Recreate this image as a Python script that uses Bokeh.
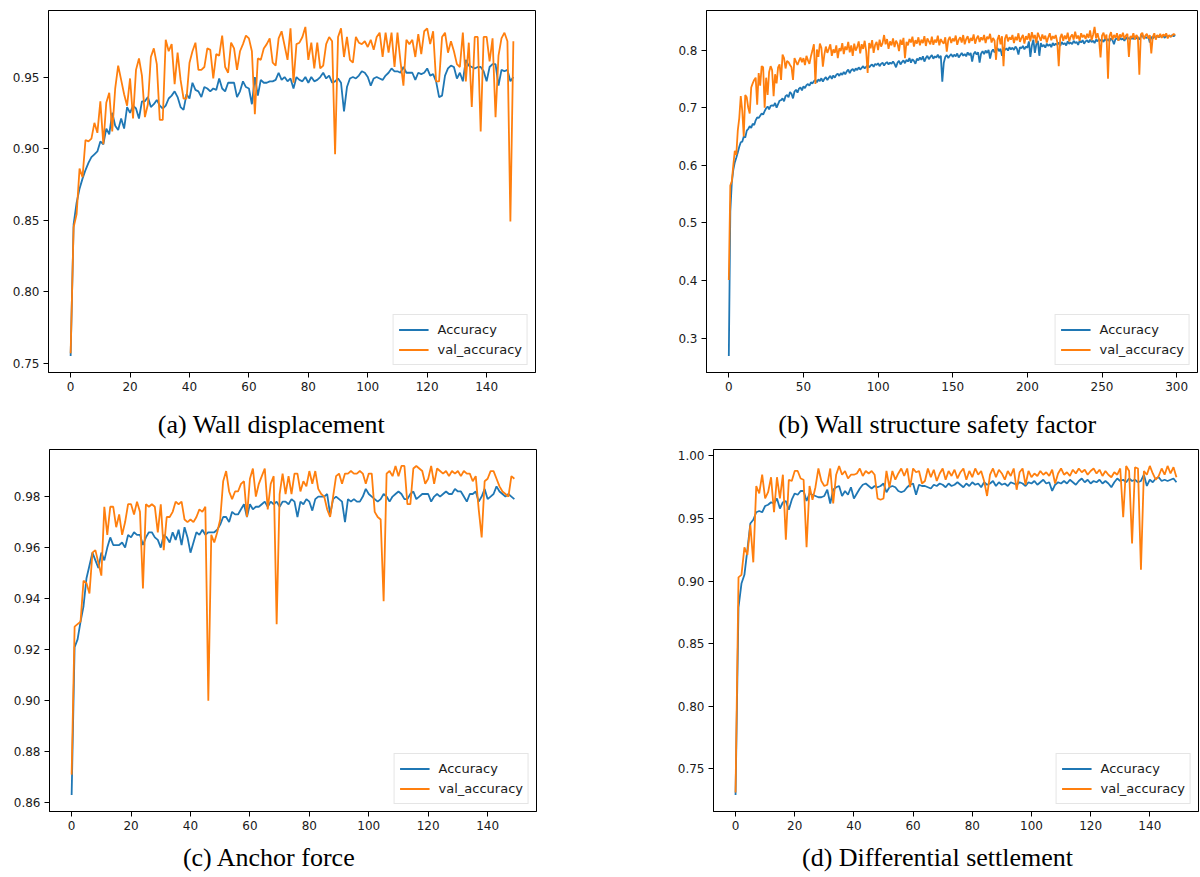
from bokeh.plotting import figure
from bokeh.layouts import column, row
from bokeh.models import Range1d, FixedTicker, PrintfTickFormatter, Legend, LegendItem, Label
from bokeh.embed import file_html
from bokeh.resources import INLINE

BLUE = "#1f77b4"
ORANGE = "#ff7f0e"

# ---------------- (a) Wall displacement ----------------
acc_a = [
    0.755, 0.847, 0.862, 0.872, 0.879, 0.885, 0.890, 0.894, 0.896, 0.898,
    0.905, 0.903, 0.914, 0.910, 0.925, 0.916, 0.913, 0.921, 0.914, 0.929,
    0.925, 0.930, 0.928, 0.921, 0.933, 0.933, 0.936, 0.929, 0.931, 0.934,
    0.930, 0.928, 0.930, 0.935, 0.937, 0.940, 0.936, 0.929, 0.927, 0.938,
    0.935, 0.946, 0.941, 0.940, 0.936, 0.943, 0.942, 0.940, 0.942, 0.941,
    0.949, 0.942, 0.940, 0.946, 0.946, 0.946, 0.936, 0.940, 0.947, 0.943,
    0.942, 0.931, 0.950, 0.937, 0.948, 0.946, 0.946, 0.947, 0.947, 0.948,
    0.953, 0.948, 0.950, 0.947, 0.949, 0.942, 0.950, 0.948, 0.947, 0.950,
    0.946, 0.950, 0.947, 0.948, 0.950, 0.953, 0.949, 0.951, 0.946, 0.947,
    0.949, 0.946, 0.926, 0.943, 0.949, 0.950, 0.949, 0.951, 0.954, 0.953,
    0.950, 0.944, 0.949, 0.950, 0.949, 0.948, 0.951, 0.953, 0.956, 0.954,
    0.954, 0.953, 0.957, 0.953, 0.953, 0.953, 0.948, 0.953, 0.952, 0.953,
    0.956, 0.951, 0.952, 0.947, 0.936, 0.937, 0.951, 0.956, 0.958, 0.957,
    0.949, 0.953, 0.947, 0.962, 0.958, 0.957, 0.956, 0.957, 0.957, 0.954,
    0.947, 0.957, 0.959, 0.959, 0.944, 0.955, 0.954, 0.955, 0.947, 0.950,
]
val_a = [
    0.757, 0.845, 0.854, 0.886, 0.880, 0.906, 0.905, 0.907, 0.918, 0.911,
    0.933, 0.903, 0.932, 0.939, 0.912, 0.942, 0.958, 0.948, 0.938, 0.930,
    0.949, 0.921, 0.955, 0.963, 0.951, 0.922, 0.931, 0.964, 0.970, 0.959,
    0.920, 0.920, 0.976, 0.968, 0.973, 0.945, 0.967, 0.948, 0.935, 0.935,
    0.960, 0.968, 0.974, 0.955, 0.955, 0.957, 0.970, 0.969, 0.949, 0.966,
    0.965, 0.979, 0.957, 0.953, 0.974, 0.970, 0.955, 0.968, 0.973, 0.979,
    0.977, 0.968, 0.924, 0.963, 0.962, 0.970, 0.973, 0.977, 0.960, 0.958,
    0.977, 0.982, 0.972, 0.962, 0.984, 0.946, 0.973, 0.974, 0.978, 0.985,
    0.962, 0.974, 0.956, 0.974, 0.956, 0.958, 0.973, 0.978, 0.975, 0.896,
    0.978, 0.984, 0.964, 0.978, 0.962, 0.960, 0.978, 0.974, 0.973, 0.975,
    0.971, 0.976, 0.969, 0.978, 0.981, 0.964, 0.981, 0.967, 0.981, 0.957,
    0.981, 0.961, 0.944, 0.976, 0.973, 0.976, 0.964, 0.980, 0.966, 0.982,
    0.984, 0.973, 0.982, 0.947, 0.947, 0.978, 0.981, 0.967, 0.975, 0.968,
    0.959, 0.957, 0.981, 0.947, 0.974, 0.929, 0.978, 0.978, 0.912, 0.978,
    0.978, 0.961, 0.977, 0.922, 0.965, 0.977, 0.981, 0.975, 0.849, 0.975,
]

# ---------------- (b) Wall structure safety factor ----------------
acc_b = [
    0.269, 0.520, 0.570, 0.592, 0.605, 0.613, 0.622, 0.632, 0.640, 0.641,
    0.650, 0.648, 0.660, 0.663, 0.668, 0.665, 0.672, 0.670, 0.678, 0.683,
    0.682, 0.686, 0.690, 0.688, 0.694, 0.699, 0.702, 0.697, 0.703, 0.704,
    0.703, 0.708, 0.700, 0.706, 0.712, 0.713, 0.716, 0.711, 0.720, 0.722,
    0.718, 0.727, 0.724, 0.716, 0.728, 0.731, 0.726, 0.733, 0.735, 0.730,
    0.737, 0.734, 0.739, 0.741, 0.738, 0.744, 0.742, 0.746, 0.748, 0.744,
    0.749, 0.746, 0.751, 0.745, 0.750, 0.753, 0.748, 0.752, 0.755, 0.750,
    0.756, 0.752, 0.757, 0.759, 0.755, 0.760, 0.757, 0.762, 0.758, 0.763,
    0.766, 0.760, 0.765, 0.767, 0.763, 0.768, 0.765, 0.770, 0.766, 0.769,
    0.772, 0.768, 0.771, 0.774, 0.770, 0.773, 0.775, 0.771, 0.776, 0.774,
    0.777, 0.772, 0.776, 0.778, 0.773, 0.777, 0.779, 0.775, 0.778, 0.776,
    0.780, 0.776, 0.770, 0.778, 0.781, 0.775, 0.779, 0.782, 0.777, 0.783,
    0.780, 0.786, 0.778, 0.784, 0.781, 0.776, 0.785, 0.782, 0.787, 0.783,
    0.789, 0.780, 0.786, 0.790, 0.784, 0.788, 0.791, 0.785, 0.789, 0.787,
    0.792, 0.786, 0.790, 0.745, 0.778, 0.788, 0.791, 0.786, 0.790, 0.793,
    0.788, 0.792, 0.789, 0.794, 0.787, 0.791, 0.795, 0.790, 0.793, 0.789,
    0.796, 0.791, 0.795, 0.780, 0.793, 0.797, 0.792, 0.796, 0.778, 0.794,
    0.798, 0.793, 0.799, 0.795, 0.800, 0.785, 0.797, 0.801, 0.796, 0.799,
    0.803, 0.798, 0.802, 0.790, 0.804, 0.800, 0.803, 0.799, 0.805, 0.801,
    0.804, 0.800, 0.806, 0.802, 0.792, 0.805, 0.803, 0.807, 0.801, 0.806,
    0.804, 0.815, 0.788, 0.808, 0.818, 0.795, 0.810, 0.816, 0.790, 0.812,
    0.806, 0.809, 0.804, 0.811, 0.807, 0.810, 0.805, 0.812, 0.808, 0.811,
    0.809, 0.813, 0.807, 0.814, 0.810, 0.812, 0.808, 0.815, 0.811, 0.813,
    0.810, 0.816, 0.812, 0.814, 0.809, 0.816, 0.813, 0.817, 0.811, 0.815,
    0.817, 0.813, 0.818, 0.814, 0.816, 0.812, 0.818, 0.815, 0.819, 0.816,
    0.818, 0.814, 0.820, 0.816, 0.819, 0.815, 0.820, 0.817, 0.810, 0.819,
    0.820, 0.817, 0.821, 0.818, 0.820, 0.816, 0.822, 0.819, 0.821, 0.818,
    0.822, 0.819, 0.823, 0.820, 0.822, 0.818, 0.823, 0.826, 0.820, 0.822,
    0.821, 0.824, 0.813, 0.823, 0.820, 0.824, 0.821, 0.825, 0.822, 0.824,
    0.823, 0.825, 0.821, 0.826, 0.822, 0.825, 0.823, 0.826, 0.824, 0.826,
]
val_b = [
    0.401, 0.565, 0.572, 0.600, 0.625, 0.618, 0.660, 0.682, 0.720, 0.695,
    0.650, 0.722, 0.718, 0.700, 0.690, 0.735, 0.742, 0.748, 0.752, 0.705,
    0.760, 0.738, 0.772, 0.770, 0.700, 0.752, 0.722, 0.762, 0.772, 0.765,
    0.720, 0.758, 0.742, 0.770, 0.775, 0.748, 0.792, 0.786, 0.768, 0.781,
    0.779, 0.774, 0.770, 0.748, 0.786, 0.780, 0.774, 0.781, 0.787, 0.779,
    0.786, 0.774, 0.790, 0.782, 0.776, 0.789, 0.799, 0.810, 0.741, 0.801,
    0.788, 0.811, 0.804, 0.771, 0.792, 0.806, 0.795, 0.802, 0.810, 0.790,
    0.801, 0.795, 0.808, 0.786, 0.803, 0.798, 0.812, 0.793, 0.806, 0.800,
    0.814, 0.796, 0.808, 0.790, 0.811, 0.799, 0.805, 0.815, 0.794, 0.810,
    0.802, 0.816, 0.798, 0.760, 0.812, 0.803, 0.817, 0.795, 0.809, 0.814,
    0.800, 0.818, 0.806, 0.812, 0.826, 0.810, 0.819, 0.802, 0.815, 0.808,
    0.820, 0.805, 0.816, 0.811, 0.798, 0.818, 0.809, 0.821, 0.786, 0.814,
    0.808, 0.819, 0.813, 0.823, 0.806, 0.817, 0.811, 0.822, 0.808, 0.818,
    0.812, 0.824, 0.807, 0.820, 0.815, 0.810, 0.823, 0.809, 0.818, 0.813,
    0.825, 0.808, 0.819, 0.814, 0.811, 0.822, 0.797, 0.817, 0.823, 0.812,
    0.820, 0.815, 0.825, 0.809, 0.818, 0.822, 0.813, 0.826, 0.810, 0.819,
    0.824, 0.812, 0.821, 0.816, 0.827, 0.811, 0.820, 0.825, 0.814, 0.822,
    0.817, 0.826, 0.812, 0.823, 0.819, 0.828, 0.813, 0.821, 0.816, 0.783,
    0.818, 0.826, 0.810, 0.824, 0.772, 0.820, 0.827, 0.815, 0.822, 0.818,
    0.826, 0.812, 0.823, 0.817, 0.829, 0.814, 0.821, 0.826, 0.811, 0.824,
    0.818, 0.829, 0.815, 0.831, 0.820, 0.826, 0.812, 0.830, 0.823, 0.816,
    0.827, 0.819, 0.825, 0.813, 0.822, 0.829, 0.817, 0.824, 0.820, 0.826,
    0.814, 0.772, 0.821, 0.828, 0.816, 0.825, 0.819, 0.830, 0.815, 0.823,
    0.827, 0.818, 0.832, 0.820, 0.825, 0.816, 0.829, 0.822, 0.826, 0.819,
    0.828, 0.821, 0.834, 0.817, 0.826, 0.840, 0.820, 0.829, 0.818, 0.787,
    0.825, 0.830, 0.819, 0.827, 0.750, 0.824, 0.831, 0.818, 0.826, 0.821,
    0.829, 0.816, 0.827, 0.822, 0.830, 0.819, 0.825, 0.828, 0.788, 0.824,
    0.821, 0.829, 0.818, 0.826, 0.822, 0.757, 0.827, 0.830, 0.819, 0.825,
    0.828, 0.820, 0.826, 0.794, 0.823, 0.829, 0.818, 0.826, 0.822, 0.828,
    0.821, 0.827, 0.824, 0.829, 0.820, 0.826, 0.823, 0.825, 0.828, 0.826,
]

# ---------------- (c) Anchor force ----------------
acc_c = [
    0.863, 0.921, 0.924, 0.931, 0.937, 0.948, 0.953, 0.958, 0.955, 0.952,
    0.958, 0.955, 0.960, 0.964, 0.961, 0.961, 0.961, 0.962, 0.960, 0.965,
    0.964, 0.966, 0.965, 0.965, 0.961, 0.964, 0.966, 0.966, 0.964, 0.963,
    0.960, 0.965, 0.964, 0.962, 0.966, 0.963, 0.967, 0.961, 0.968, 0.964,
    0.958, 0.962, 0.966, 0.965, 0.967, 0.965, 0.966, 0.966, 0.966, 0.967,
    0.969, 0.972, 0.972, 0.970, 0.974, 0.973, 0.973, 0.975, 0.977, 0.972,
    0.977, 0.975, 0.976, 0.976, 0.977, 0.978, 0.976, 0.978, 0.977, 0.978,
    0.976, 0.978, 0.978, 0.977, 0.979, 0.978, 0.972, 0.978, 0.977, 0.979,
    0.978, 0.9745, 0.979, 0.980, 0.980, 0.980, 0.981, 0.973, 0.979, 0.980,
    0.979, 0.978, 0.970, 0.979, 0.978, 0.979, 0.978, 0.978, 0.980, 0.983,
    0.981, 0.980, 0.979, 0.978, 0.979, 0.981, 0.980, 0.978, 0.980, 0.981,
    0.982, 0.981, 0.979, 0.979, 0.981, 0.982, 0.979, 0.980, 0.981, 0.981,
    0.981, 0.978, 0.980, 0.981, 0.980, 0.981, 0.982, 0.981, 0.981, 0.983,
    0.982, 0.982, 0.980, 0.978, 0.981, 0.981, 0.982, 0.978, 0.980, 0.983,
    0.979, 0.980, 0.981, 0.984, 0.982, 0.981, 0.980, 0.981, 0.980, 0.979,
]
val_c = [
    0.871, 0.929, 0.930, 0.931, 0.947, 0.946, 0.942, 0.958, 0.959, 0.954,
    0.949, 0.976, 0.965, 0.976, 0.976, 0.968, 0.973, 0.965, 0.970, 0.977,
    0.977, 0.973, 0.978, 0.974, 0.944, 0.977, 0.976, 0.977, 0.976, 0.966,
    0.977, 0.959, 0.972, 0.972, 0.974, 0.978, 0.977, 0.978, 0.971, 0.970,
    0.971, 0.970, 0.972, 0.975, 0.974, 0.976, 0.900, 0.965, 0.962, 0.966,
    0.971, 0.986, 0.990, 0.982, 0.979, 0.982, 0.982, 0.985, 0.986, 0.972,
    0.987, 0.991, 0.980, 0.985, 0.988, 0.991, 0.975, 0.985, 0.988, 0.930,
    0.981, 0.989, 0.981, 0.988, 0.981, 0.989, 0.989, 0.982, 0.986, 0.984,
    0.990, 0.985, 0.990, 0.983, 0.981, 0.980, 0.975, 0.972, 0.980, 0.988,
    0.989, 0.985, 0.989, 0.989, 0.990, 0.989, 0.989, 0.990, 0.989, 0.985,
    0.989, 0.989, 0.974, 0.972, 0.971, 0.939, 0.989, 0.990, 0.988, 0.992,
    0.988, 0.992, 0.992, 0.977, 0.977, 0.991, 0.992, 0.991, 0.990, 0.985,
    0.987, 0.992, 0.985, 0.991, 0.990, 0.989, 0.990, 0.988, 0.990, 0.989,
    0.990, 0.988, 0.990, 0.989, 0.989, 0.986, 0.988, 0.975, 0.964, 0.986,
    0.987, 0.990, 0.990, 0.987, 0.984, 0.982, 0.981, 0.980, 0.988, 0.987,
]

# ---------------- (d) Differential settlement ----------------
acc_d = [
    0.729, 0.879, 0.898, 0.905, 0.925, 0.946, 0.949, 0.955, 0.956, 0.955,
    0.960, 0.961, 0.963, 0.962, 0.966, 0.958, 0.963, 0.964, 0.957, 0.965,
    0.970, 0.969, 0.972, 0.972, 0.964, 0.970, 0.969, 0.968, 0.967, 0.967,
    0.968, 0.973, 0.962, 0.973, 0.975, 0.976, 0.968, 0.972, 0.969, 0.975,
    0.966, 0.970, 0.974, 0.977, 0.978, 0.976, 0.974, 0.976, 0.975, 0.976,
    0.978, 0.971, 0.975, 0.976, 0.975, 0.972, 0.971, 0.972, 0.975, 0.977,
    0.978, 0.969, 0.977, 0.976, 0.976, 0.975, 0.974, 0.977, 0.976, 0.978,
    0.977, 0.975, 0.978, 0.976, 0.977, 0.979, 0.977, 0.975, 0.978, 0.976,
    0.979, 0.977, 0.978, 0.975, 0.979, 0.977, 0.978, 0.980, 0.976, 0.979,
    0.977, 0.978, 0.976, 0.979, 0.978, 0.977, 0.979, 0.978, 0.976, 0.979,
    0.978, 0.980, 0.977, 0.979, 0.981, 0.978, 0.979, 0.972, 0.977, 0.979,
    0.978, 0.980, 0.978, 0.981, 0.979, 0.977, 0.980, 0.982, 0.979, 0.981,
    0.978, 0.980, 0.979, 0.981, 0.978, 0.980, 0.978, 0.975, 0.979, 0.982,
    0.980, 0.981, 0.979, 0.982, 0.980, 0.981, 0.979, 0.980, 0.985, 0.976,
    0.981, 0.979, 0.982, 0.983, 0.980, 0.981, 0.980, 0.981, 0.982, 0.979,
]
val_d = [
    0.731, 0.903, 0.905, 0.927, 0.921, 0.945, 0.915, 0.976, 0.970, 0.985,
    0.966, 0.971, 0.983, 0.955, 0.983, 0.966, 0.985, 0.933, 0.981, 0.980,
    0.988, 0.988, 0.982, 0.981, 0.927, 0.976, 0.965, 0.975, 0.990, 0.980,
    0.976, 0.977, 0.990, 0.962, 0.985, 0.992, 0.985, 0.988, 0.982, 0.985,
    0.985, 0.986, 0.990, 0.984, 0.988, 0.986, 0.988, 0.985, 0.966, 0.965,
    0.966, 0.988, 0.975, 0.988, 0.981, 0.986, 0.990, 0.984, 0.990, 0.975,
    0.990, 0.987, 0.988, 0.978, 0.980, 0.990, 0.983, 0.989, 0.980, 0.986,
    0.990, 0.981, 0.988, 0.984, 0.989, 0.982, 0.987, 0.990, 0.981, 0.988,
    0.983, 0.990, 0.985, 0.988, 0.980, 0.968, 0.985, 0.990, 0.983, 0.989,
    0.986, 0.981, 0.988, 0.984, 0.990, 0.973, 0.987, 0.990, 0.977, 0.988,
    0.983, 0.986, 0.984, 0.988, 0.985, 0.987, 0.984, 0.989, 0.978, 0.986,
    0.990, 0.985, 0.987, 0.984, 0.989, 0.986, 0.990, 0.987, 0.989, 0.985,
    0.988, 0.990, 0.986, 0.989, 0.984, 0.988, 0.985, 0.983, 0.987, 0.985,
    0.990, 0.951, 0.992, 0.988, 0.930, 0.991, 0.990, 0.909, 0.988, 0.985,
    0.992, 0.986, 0.981, 0.984, 0.990, 0.985, 0.992, 0.986, 0.991, 0.983,
]

captions = ["(a) Wall displacement", "(b) Wall structure safety factor",
            "(c) Anchor force", "(d) Differential settlement"]
legend_labels = ["Accuracy", "val_accuracy"]
x_ticks_150 = [0, 20, 40, 60, 80, 100, 120, 140]
x_ticks_300 = [0, 50, 100, 150, 200, 250, 300]
y_ticks_a = [0.75, 0.80, 0.85, 0.90, 0.95]
y_ticks_b = [0.3, 0.4, 0.5, 0.6, 0.7, 0.8]
y_ticks_c = [0.86, 0.88, 0.90, 0.92, 0.94, 0.96, 0.98]
y_ticks_d = [0.75, 0.80, 0.85, 0.90, 0.95, 1.00]


def make_panel(acc, val, xticks, yticks, yfmt, width, height,
               b_left, b_right, b_top, b_bottom):
    n = len(acc)
    epochs = list(range(n))
    lo = min(min(acc), min(val))
    hi = max(max(acc), max(val))
    ypad = 0.05 * (hi - lo)
    xpad = 0.05 * (n - 1)
    p = figure(width=width, height=height, output_backend="svg",
               toolbar_location=None,
               x_range=Range1d(-xpad, n - 1 + xpad),
               y_range=Range1d(lo - ypad, hi + ypad),
               min_border_left=b_left, min_border_right=b_right,
               min_border_top=b_top, min_border_bottom=b_bottom)
    p.grid.visible = False
    p.background_fill_color = "white"
    p.border_fill_color = "white"
    p.outline_line_color = "black"
    p.outline_line_width = 1
    p.outline_line_alpha = 1

    r1 = p.line(epochs, acc, line_color=BLUE, line_width=1.8)
    r2 = p.line(epochs, val, line_color=ORANGE, line_width=1.8)

    p.xaxis.ticker = FixedTicker(ticks=xticks)
    p.yaxis.ticker = FixedTicker(ticks=yticks)
    p.xaxis.formatter = PrintfTickFormatter(format="%d")
    p.yaxis.formatter = PrintfTickFormatter(format=yfmt)
    for ax in (p.xaxis[0], p.yaxis[0]):
        ax.axis_line_color = "black"
        ax.major_tick_line_color = "black"
        ax.minor_tick_line_color = None
        ax.major_tick_out = 5
        ax.major_tick_in = 0
        ax.major_label_text_font = "DejaVu Sans"
        ax.major_label_text_font_size = "12px"
        ax.major_label_text_color = "#1a1a1a"
        ax.major_label_standoff = 4

    legend = Legend(items=[LegendItem(label=legend_labels[0], renderers=[r1]),
                           LegendItem(label=legend_labels[1], renderers=[r2])],
                    location="bottom_right")
    legend.label_text_font = "DejaVu Sans"
    legend.label_text_font_size = "13px"
    legend.label_text_color = "#1a1a1a"
    legend.glyph_width = 30
    legend.glyph_height = 19
    legend.label_height = 19
    legend.label_standoff = 9
    legend.padding = 5
    legend.spacing = 1
    legend.margin = 7
    legend.border_line_color = "#cccccc"
    legend.border_line_width = 1
    legend.background_fill_alpha = 0.8
    p.add_layout(legend)
    return p


def make_caption(text, width, height, cx, cy):
    c = figure(width=width, height=height, output_backend="svg",
               toolbar_location=None, x_axis_type=None, y_axis_type=None,
               x_range=Range1d(0, 1), y_range=Range1d(0, 1),
               min_border=0, min_border_left=0, min_border_right=0,
               min_border_top=0, min_border_bottom=0)
    c.grid.visible = False
    c.outline_line_color = None
    c.background_fill_color = "white"
    c.border_fill_color = "white"
    c.add_layout(Label(x=cx, y=cy, x_units="screen", y_units="screen",
                       text=text, text_align="center", text_baseline="middle",
                       text_font="Liberation Serif", text_font_size="26px",
                       text_color="black"))
    return c


pa = make_panel(acc_a, val_a, x_ticks_150, y_ticks_a, "%.2f", 650, 400, 48, 115, 10, 28)
pb = make_panel(acc_b, val_b, x_ticks_300, y_ticks_b, "%.1f", 550, 400, 56, 3, 6, 26)
pc = make_panel(acc_c, val_c, x_ticks_150, y_ticks_c, "%.2f", 650, 395, 49, 114, 5, 28)
pd_ = make_panel(acc_d, val_d, x_ticks_150, y_ticks_d, "%.2f", 550, 395, 63, 2, 5, 28)

ca = make_caption(captions[0], 650, 44, 271, 20)
cb = make_caption(captions[1], 550, 44, 287, 20)
cc = make_caption(captions[2], 650, 37, 269, 19)
cd = make_caption(captions[3], 550, 37, 287, 19)

page = column(row(pa, pb), row(ca, cb), row(pc, pd_), row(cc, cd))

open("out.html", "w").write(file_html(page, INLINE))
